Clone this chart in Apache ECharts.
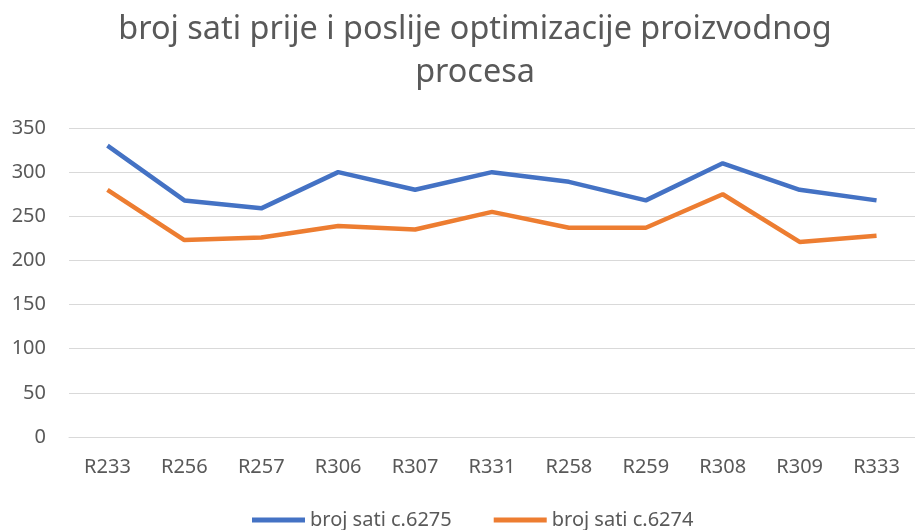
<!DOCTYPE html>
<html><head><meta charset="utf-8">
<script src="https://cdn.jsdelivr.net/npm/echarts@6/dist/echarts.min.js"></script>
<style>html,body{margin:0;padding:0;background:#fff}#c{width:915px;height:530px}</style>
</head><body><div id="c"></div>
<script>
const categories = ['R233','R256','R257','R306','R307','R331','R258','R259','R308','R309','R333'];
const series6275 = [330, 268, 259, 300, 280, 300, 289, 268, 310, 280, 268];
const series6274 = [280, 223, 226, 239, 235, 255, 237, 237, 275, 221, 228];
const seriesNames = ['broj sati c.6275', 'broj sati c.6274'];
const titleText = 'broj sati prije i poslije optimizacije proizvodnog\nprocesa';
const FONT = 'Noto Sans';
const chart = echarts.init(document.getElementById('c'), null, {renderer:'canvas'});
chart.setOption({
  animation: false,
  backgroundColor: '#fff',
  title: {
    text: titleText, left: 475, top: 8, padding: 0, textAlign: 'center',
    textStyle: {fontFamily: FONT, fontSize: 32.4, fontWeight: 'normal', color: '#595959', lineHeight: 43}
  },
  legend: {
    bottom: 0, left: 252, padding: 0, icon: 'rect', itemWidth: 53, itemHeight: 5, itemGap: 42,
    textStyle: {fontFamily: FONT, fontSize: 20, color: '#595959', padding: [0,0,0,0]},
    data: seriesNames
  },
  grid: {left: 69, right: -8, top: 128, bottom: 93, containLabel: false},
  xAxis: {
    type: 'category', data: categories, boundaryGap: true,
    axisLine: {lineStyle: {color: '#d9d9d9', width: 1}},
    axisTick: {show: false},
    axisLabel: {fontFamily: FONT, fontSize: 20, color: '#595959', margin: 20}
  },
  yAxis: {
    type: 'value', min: 0, max: 350, interval: 50,
    axisLine: {show: false}, axisTick: {show: false},
    splitLine: {lineStyle: {color: '#d9d9d9', width: 1}},
    axisLabel: {fontFamily: FONT, fontSize: 20, color: '#595959', margin: 23}
  },
  series: [
    {name: seriesNames[0], type: 'line', data: series6275, symbol: 'none', lineStyle: {width: 4.5, color: '#4472C4'}, itemStyle: {color: '#4472C4'}},
    {name: seriesNames[1], type: 'line', data: series6274, symbol: 'none', lineStyle: {width: 4.5, color: '#ED7D31'}, itemStyle: {color: '#ED7D31'}}
  ]
});
</script></body></html>
